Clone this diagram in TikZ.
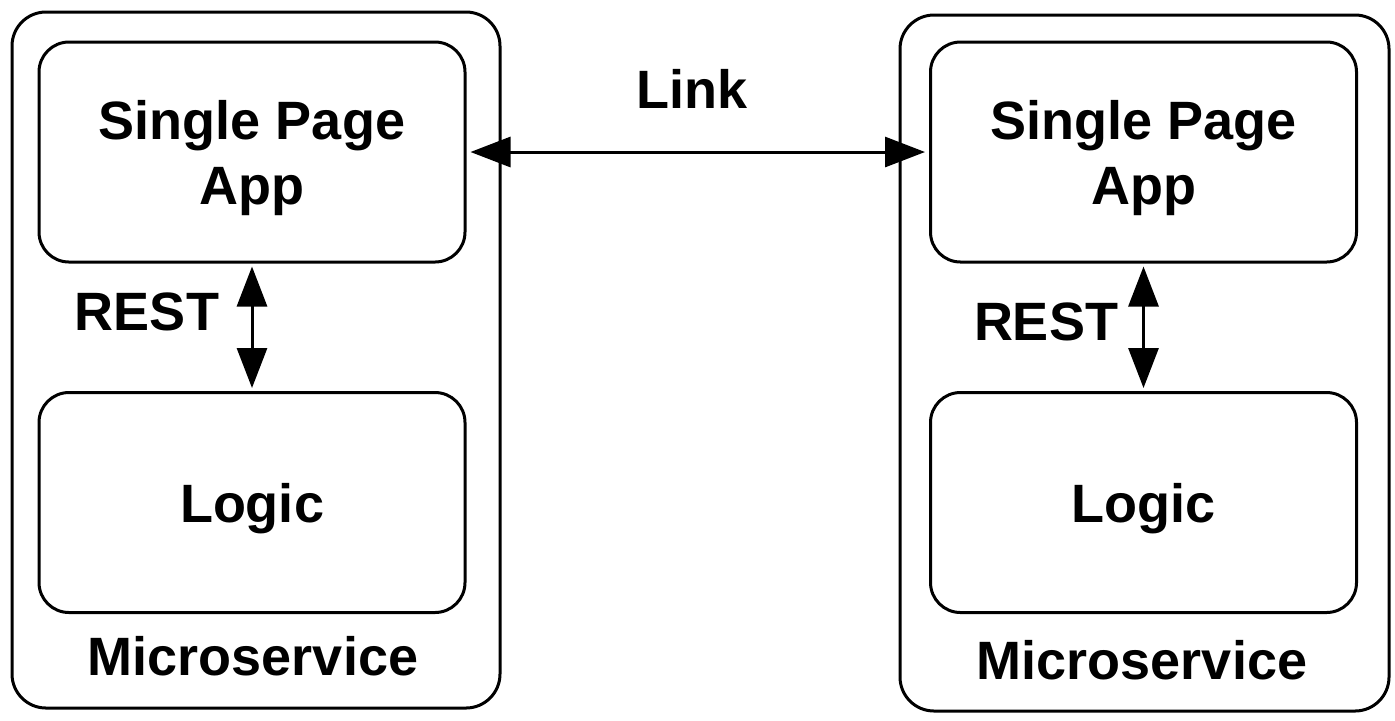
\documentclass[tikz,border=0pt]{standalone}
\usepackage{fontspec}
\setmainfont{Liberation Sans}
\usetikzlibrary{arrows.meta}
\usetikzlibrary{positioning}

\begin{document}
\begin{tikzpicture}[x=0.5pt,y=-0.5pt, line width=1.5pt,
  every node/.style={font=\bfseries\fontsize{27}{32.5}\selectfont},
  outerbox/.style={draw,rounded corners=17pt,minimum width=244pt,minimum height=348pt},
  innerbox/.style={draw,rounded corners=15pt,minimum width=213pt,minimum height=110pt,align=center,text depth=0pt},
  lbl/.style={anchor=base},
  twoway/.style={{Triangle[length=20pt,width=15pt]}-{Triangle[length=20pt,width=15pt]},shorten <=1.5pt,shorten >=1.5pt}]
\useasboundingbox (0,0) rectangle (1395,720);

\node[outerbox] (msA) at (256,360) {};
\node[outerbox,minimum width=244.5pt] (msB) at (1144.5,363) {};

\node[innerbox] (spaA) at (252,152) {Single Page\\App};
\node[innerbox] (logicA) at (252,502.5) {Logic};
\node[innerbox] (spaB) at (1143.5,152) {Single Page\\App};
\node[innerbox] (logicB) at (1143.5,502.5) {Logic};

\node[lbl] (restA) at (147,330) {REST};
\node[lbl] (restB) at (1046,340) {REST};
\node[lbl] (linkText) at (692,108) {Link};
\node[lbl] (msTextA) at (253,675) {Microservice};
\node[lbl] (msTextB) at (1142,679) {Microservice};

\draw[twoway] (spaA.south) -- (logicA.north);
\draw[twoway] (spaB.south) -- (logicB.north);
\draw[twoway,shorten <=2pt,shorten >=2pt] (spaA.east) -- (spaB.west);

\end{tikzpicture}
\end{document}
